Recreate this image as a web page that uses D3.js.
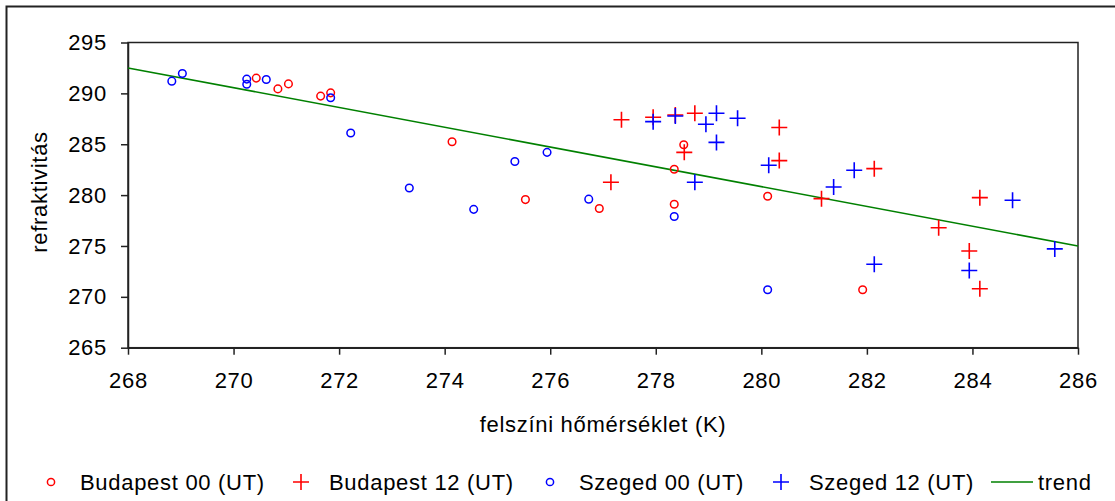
<!DOCTYPE html>
<html>
<head>
<meta charset="utf-8">
<script src="https://cdn.jsdelivr.net/npm/d3@7"></script>
<style>
  body { margin: 0; background: #fff; }
  svg text { font-family: "Liberation Sans", Arial, sans-serif; fill: #000; }
</style>
</head>
<body>
<div id="viz"></div>
<script>
// series values (x = surface temperature K, y = refractivity)
var bp00_x = [270.43, 270.84, 271.04, 271.65, 271.84, 274.14, 275.53, 276.93, 278.35, 278.35, 278.53, 280.12, 281.92];
var bp00_y = [291.5, 290.44, 290.93, 289.73, 290.05, 285.24, 279.56, 278.68, 282.54, 279.1, 284.95, 279.88, 270.7];

var bp12_x = [277.35, 277.15, 277.95, 278.37, 278.74, 278.54, 280.34, 280.34, 281.14, 282.14, 283.36, 283.94, 284.14, 284.14];
var bp12_y = [287.4, 281.27, 287.65, 287.88, 288.04, 284.2, 286.64, 283.39, 279.65, 282.6, 276.79, 274.51, 279.75, 270.8];

var sz00_x = [268.83, 269.03, 270.25, 270.25, 270.62, 271.84, 272.22, 273.33, 274.55, 275.33, 275.94, 276.73, 278.35, 280.12];
var sz00_y = [291.2, 291.95, 291.4, 290.9, 291.36, 289.57, 286.1, 280.7, 278.6, 283.3, 284.2, 279.6, 277.9, 270.7];

var sz12_x = [277.95, 278.37, 279.15, 278.95, 279.55, 279.15, 278.74, 280.14, 281.76, 281.37, 284.76, 282.14, 283.94, 285.56];
var sz12_y = [287.22, 287.78, 288.04, 286.97, 287.56, 285.18, 281.27, 282.93, 282.44, 280.79, 279.49, 273.21, 272.59, 274.71];

var trend_x = [268, 286];
var trend_y = [292.5, 275.0];

var x_ticks = [268, 270, 272, 274, 276, 278, 280, 282, 284, 286];
var y_ticks = [265, 270, 275, 280, 285, 290, 295];

var legend_names = ['Budapest 00 (UT)', 'Budapest 12 (UT)', 'Szeged 00 (UT)', 'Szeged 12 (UT)', 'trend'];

var W = 1115, H = 501;
var plot = {left: 128, right: 1078, top: 42.5, bottom: 347.7};

var svg = d3.select('#viz').append('svg')
    .attr('width', W)
    .attr('height', H);

// outer chart frame
svg.append('rect')
    .attr('x', 6.5).attr('y', 6.5)
    .attr('width', W + 10).attr('height', H + 10)
    .attr('fill', 'none')
    .attr('stroke', '#222')
    .attr('stroke-width', 2);

var x = d3.scaleLinear().domain([268, 286]).range([plot.left, plot.right]);
var y = d3.scaleLinear().domain([265, 295]).range([plot.bottom, plot.top]);

function zip(xs, ys) {
  return xs.map(function(v, i) { return {x: v, y: ys[i]}; });
}

// plot box
svg.append('rect')
    .attr('x', plot.left).attr('y', plot.top)
    .attr('width', plot.right - plot.left)
    .attr('height', plot.bottom - plot.top)
    .attr('fill', 'none')
    .attr('stroke', '#222')
    .attr('stroke-width', 1.5);

// axes
var font = '22px';
var spacing = '0.7px';
var x_axis = svg.append('g')
    .attr('transform', 'translate(0,' + plot.bottom + ')')
    .call(d3.axisBottom(x).tickValues(x_ticks).tickSize(7).tickPadding(18).tickSizeOuter(0));
var y_axis = svg.append('g')
    .attr('transform', 'translate(' + plot.left + ',0)')
    .call(d3.axisLeft(y).tickValues(y_ticks).tickSize(7).tickPadding(14).tickSizeOuter(0));

[x_axis, y_axis].forEach(function(a) {
  a.selectAll('text').style('font-size', font).style('letter-spacing', spacing).style('font-family', '"Liberation Sans", Arial, sans-serif');
  a.selectAll('line').style('stroke', '#222').style('stroke-width', 1.5);
  a.selectAll('path').style('stroke', '#222').style('stroke-width', 1.5);
});

// axis labels
svg.append('text')
    .attr('x', (plot.left + plot.right) / 2)
    .attr('y', 432)
    .attr('text-anchor', 'middle')
    .style('font-size', font)
    .style('letter-spacing', spacing)
    .text('felszíni hőmérséklet (K)');

svg.append('text')
    .attr('transform', 'translate(47,' + 192 + ') rotate(-90)')
    .attr('text-anchor', 'middle')
    .style('font-size', font)
    .style('letter-spacing', spacing)
    .text('refraktivitás');

// trend
var line = d3.line()
    .x(function(d) { return x(d.x); })
    .y(function(d) { return y(d.y); });

svg.append('path')
    .datum(zip(trend_x, trend_y))
    .attr('d', line)
    .attr('fill', 'none')
    .attr('stroke', '#008000')
    .attr('stroke-width', 1.6);

function draw_circles(data, color) {
  svg.append('g').selectAll('circle')
      .data(data)
      .enter().append('circle')
      .attr('cx', function(d) { return x(d.x); })
      .attr('cy', function(d) { return y(d.y); })
      .attr('r', 3.8)
      .attr('fill', 'none')
      .attr('stroke', color)
      .attr('stroke-width', 1.5);
}

function cross_path(cx, cy, s) {
  return 'M' + (cx - s) + ',' + cy + 'H' + (cx + s) + 'M' + cx + ',' + (cy - s) + 'V' + (cy + s);
}
function draw_crosses(data, color) {
  svg.append('g').selectAll('path')
      .data(data)
      .enter().append('path')
      .attr('d', function(d) { return cross_path(x(d.x), y(d.y), 8); })
      .attr('fill', 'none')
      .attr('stroke', color)
      .attr('stroke-width', 1.6);
}

draw_circles(zip(bp00_x, bp00_y), '#ff0000');
draw_crosses(zip(bp12_x, bp12_y), '#ff0000');
draw_circles(zip(sz00_x, sz00_y), '#0000ff');
draw_crosses(zip(sz12_x, sz12_y), '#0000ff');

// legend
var ly = 482;
var legend_marker_x = [51, 301, 550, 781, 991];
var legend_text_x = [80, 329, 579, 809, 1038];
var legend_kind = ['circle', 'cross', 'circle', 'cross', 'line'];
var legend_color = ['#ff0000', '#ff0000', '#0000ff', '#0000ff', '#008000'];

for (var i = 0; i < legend_names.length; i++) {
  if (legend_kind[i] == 'circle') {
    svg.append('circle')
        .attr('cx', legend_marker_x[i]).attr('cy', ly)
        .attr('r', 3.6)
        .attr('fill', 'none')
        .attr('stroke', legend_color[i])
        .attr('stroke-width', 1.5);
  } else if (legend_kind[i] == 'cross') {
    svg.append('path')
        .attr('d', cross_path(legend_marker_x[i], ly, 8))
        .attr('stroke', legend_color[i])
        .attr('stroke-width', 1.6);
  } else {
    svg.append('line')
        .attr('x1', legend_marker_x[i]).attr('x2', legend_marker_x[i] + 42)
        .attr('y1', ly).attr('y2', ly)
        .attr('stroke', legend_color[i])
        .attr('stroke-width', 1.6);
  }
  svg.append('text')
      .attr('x', legend_text_x[i])
      .attr('y', ly)
      .attr('dy', '0.36em')
      .style('font-size', font)
      .style('letter-spacing', spacing)
      .text(legend_names[i]);
}
</script>
</body>
</html>
